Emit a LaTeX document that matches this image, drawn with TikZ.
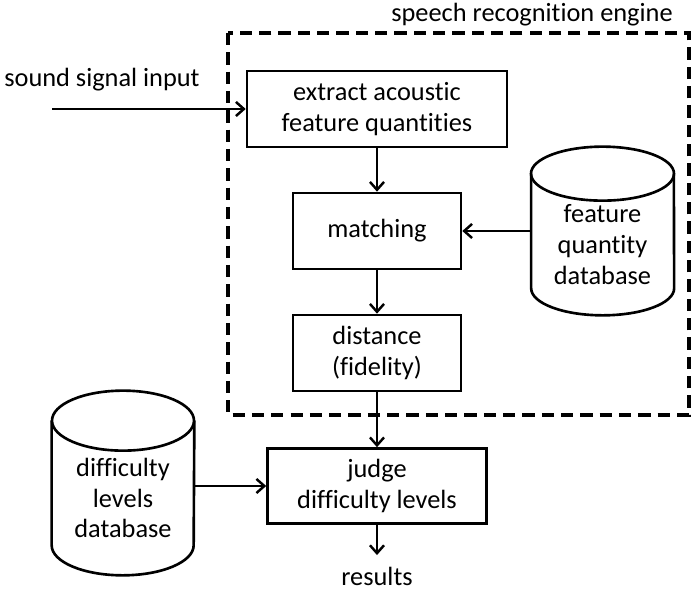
\documentclass[tikz,border=0pt]{standalone}
\usepackage{fontspec}
\setmainfont[Ligatures=NoCommon]{Carlito}
\usepackage{tikz}
\usetikzlibrary{arrows.meta}
\usetikzlibrary{calc}

\begin{document}
\begin{tikzpicture}[x=0.02cm,y=0.02cm,
  font=\fontsize{15}{17.5}\selectfont,
  procbox/.style={draw,line width=1.5pt,align=center,minimum height=1.52cm},
  dbase/.style={align=center,inner sep=0pt,minimum width=2.84cm},
  dbline/.style={line width=1.5pt},
  flow/.style={line width=1.4pt,-{Straight Barb[length=4.5pt,width=8pt,line width=1.4pt]}},
  engine/.style={line width=1.8pt,dash pattern=on 7pt off 4pt}]
\useasboundingbox (0,0) rectangle (691,594);
% speech recognition engine
\draw [engine] (228,561) rectangle (689,179);
\node (sretitle) at (532,579) {speech recognition engine};
\node [procbox,minimum width=5.2cm] (extract) at (377,485) {extract acoustic\\feature quantities};
\node [procbox,minimum width=3.36cm] (matching) at (377,363) {matching};
\node [procbox,minimum width=3.36cm] (distance) at (377,241) {distance\\(fidelity)};
\node [dbase,minimum height=1.74cm] (fqdb) at (602.5,349.5) {feature\\quantity\\database};
\draw [dbline] ($(fqdb.north)+(0,27)$) ellipse [x radius=71.5,y radius=27];
\draw [dbline] ($(fqdb.north west)+(0,27)$) -- (fqdb.south west)
  arc [start angle=180,end angle=360,x radius=71.5,y radius=27]
  -- ($(fqdb.north east)+(0,27)$);
% input
\node (inlabel) at (102,514) {sound signal input};
\coordinate (insrc) at (52,485);
\draw [flow] (insrc) -- (extract);
\draw [flow] (extract) -- (matching);
\draw [flow] (fqdb.west |- matching.east) -- (matching.east);
\draw [flow] (matching) -- (distance);
% judging
\node [procbox,minimum width=4.38cm,minimum height=1.5cm] (judge) at (377,108) {judge\\difficulty levels};
\node [dbase,minimum height=1.88cm] (dldb) at (123,96) {difficulty\\levels\\database};
\draw [dbline] ($(dldb.north)+(0,30)$) ellipse [x radius=71,y radius=30];
\draw [dbline] ($(dldb.north west)+(0,30)$) -- (dldb.south west)
  arc [start angle=180,end angle=360,x radius=71,y radius=30]
  -- ($(dldb.north east)+(0,30)$);
\draw [flow] (dldb.east |- judge.west) -- (judge.west);
\draw [flow] (distance) -- (judge);
\node [anchor=base,inner sep=7pt] (results) at (377,8) {results};
\draw [flow] (judge) -- (results);
\end{tikzpicture}
\end{document}
